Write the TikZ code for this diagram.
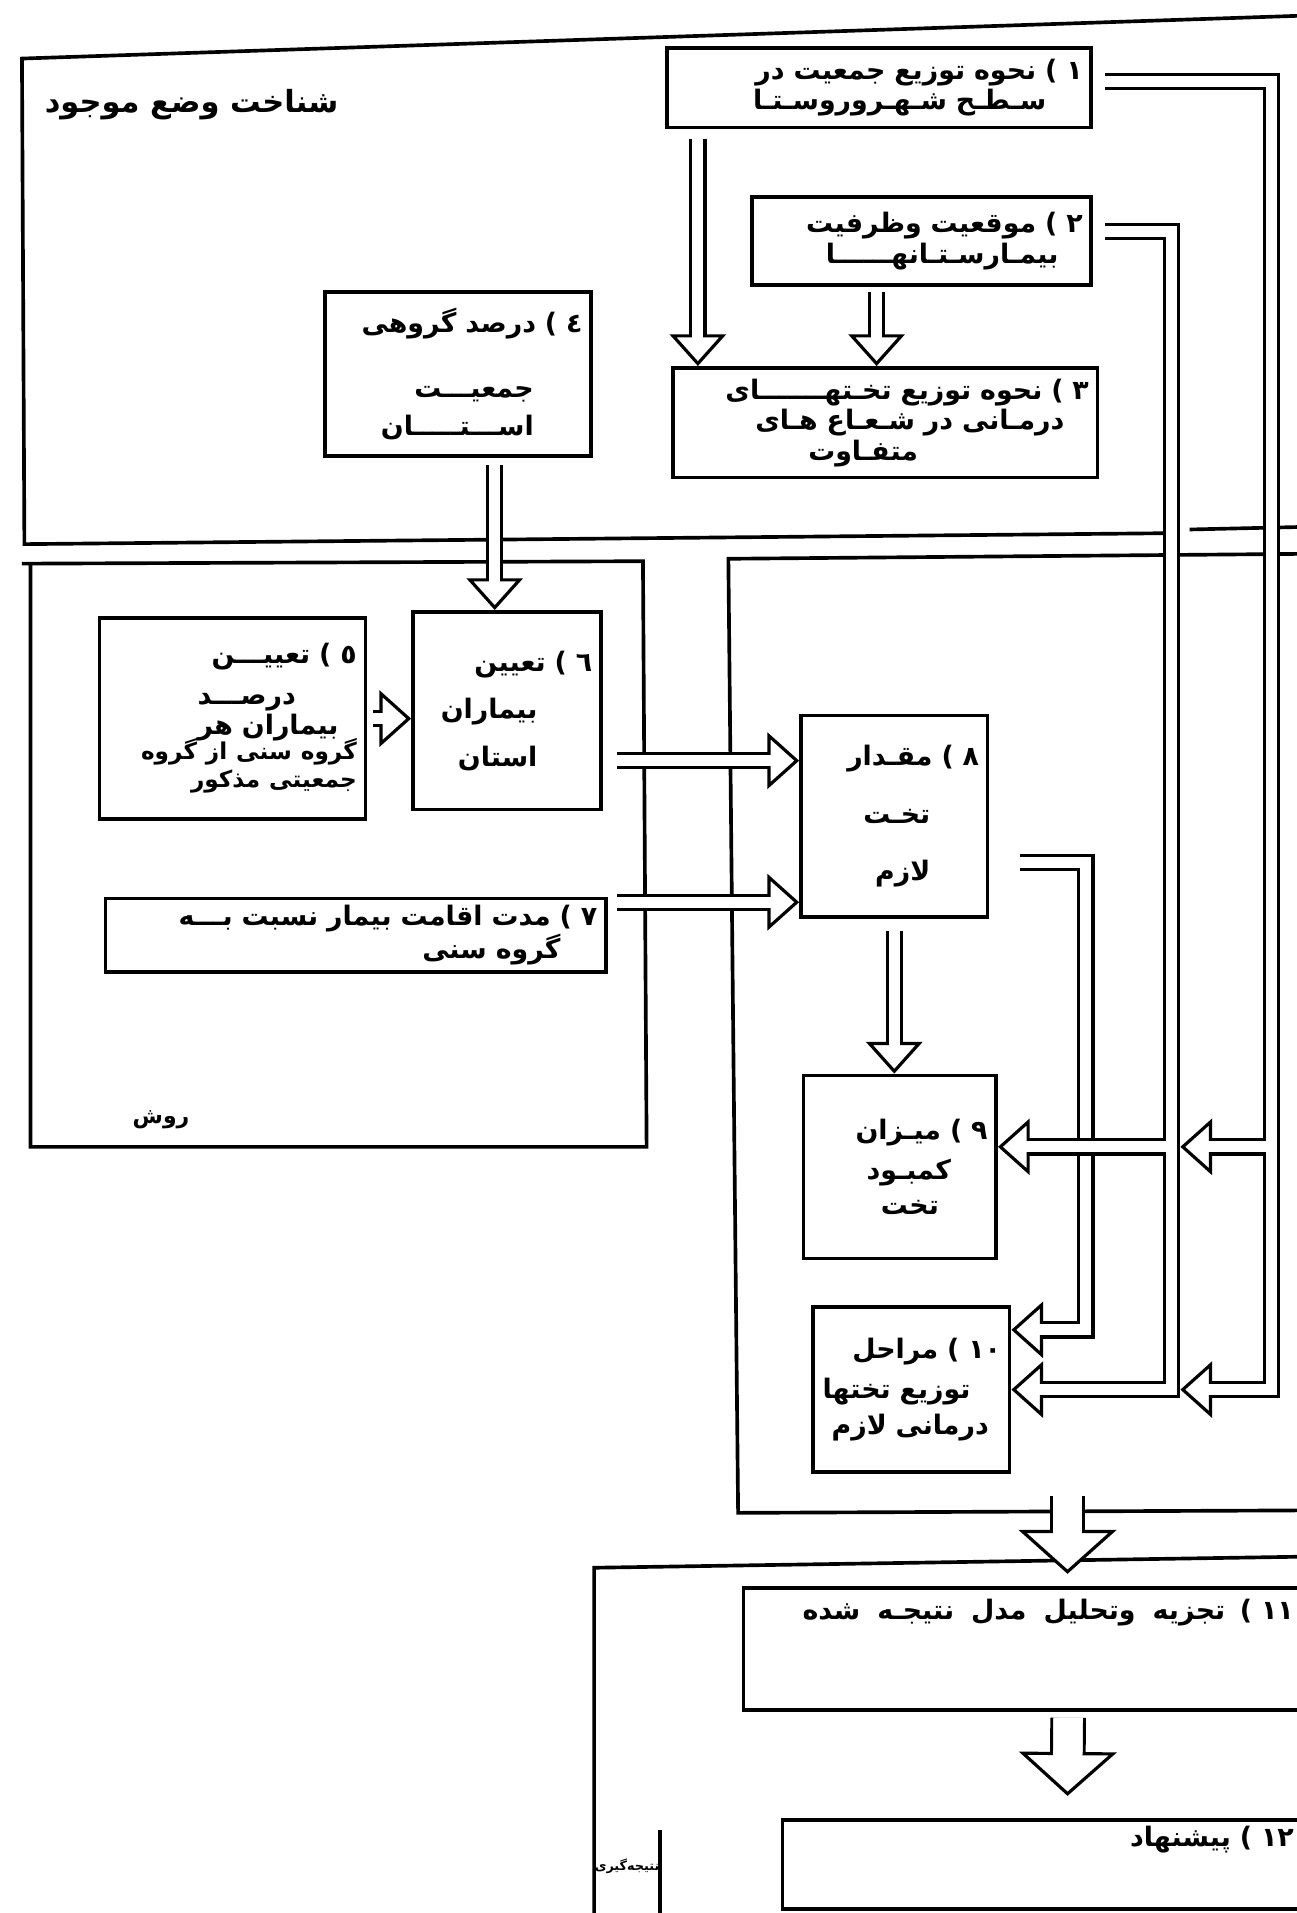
\documentclass[tikz,border=0pt]{standalone}
\usepackage{fontspec}
\usetikzlibrary{arrows.meta}
\TeXXeTstate=1
\newfontfamily\fa[Script=Arabic]{DejaVu Sans}
\newcommand{\fl}[1]{\beginR #1\endR}
\newcommand{\hollowline}[2][hollow]{\draw[#1] #2; \draw[#1 gap] #2;}

\begin{document}
\begin{tikzpicture}[x=1pt, y=-1pt,
every node/.style={font=\fa\bfseries\fontsize{22}{25}\selectfont},
box/.style 2 args={draw, line width=3pt, anchor=north west, align=right,
  inner xsep=7pt, inner ysep=3pt, text width=#1, minimum height=#2},
frame/.style={line width=3pt},
hollow/.style={double=white, double distance=9pt, line width=2.6pt,
  -{Triangle[fill=white, length=26pt, width=46pt, line width=2.6pt]}},
hollow gap/.style={white, line width=9pt, shorten >=22pt},
bighollow/.style={double=white, double distance=24pt, line width=2.6pt,
  -{Triangle[fill=white, length=36pt, width=80pt, line width=2.6pt]}},
bighollow gap/.style={white, line width=24pt, shorten >=31pt}]
\fill[white] (0,0) rectangle (1063,1568);
\useasboundingbox (0,0) rectangle (1063,1568);

%frames of the three parts
\draw[frame] (1063,13) -- (18,48) -- (20,446) -- (960,437);
\draw[frame] (975,434) -- (1063,432);
\draw[frame] (18,462) -- (527,460) -- (530,940) -- (25,940) -- (25,462);
\draw[frame] (1063,454) -- (597,458) -- (605,1240) -- (1063,1238);
\draw[frame] (1063,1276) -- (487,1285) -- (487,1568);
\draw[frame] (541,1500) -- (541,1568);

\node[font=\fa\bfseries\fontsize{25}{28}\selectfont] (known) at (157,86) {\fl{شناخت وضع موجود}};
\node[font=\fa\bfseries\fontsize{18}{22}\selectfont] (method) at (132,918) {\fl{روش}};
\node[font=\fa\bfseries\fontsize{10.5}{13}\selectfont, inner sep=0pt] (result) at (514,1530) {\fl{نتیجه‌گیری}};

%boxes
\node[box={334pt}{65pt}] (1) at (545,38) {\fl{١ ) نحوه توزیع جمعیت در}\\ \fl{\hspace*{30pt}سـطـح شـهـروروسـتـا}};
\node[box={264pt}{72pt}] (2) at (615,160) {\fl{٢ ) موقعیت وظرفیت}\\ \fl{\hspace*{20pt}بیمـارسـتـانهــــــا}};
\node[box={334pt}{90pt}] (3) at (550,300) {\fl{٣ ) نحوه توزیع تخـتهـــــــای}\\ \fl{\hspace*{20pt}درمـانی در شـعـاع هـای}\\ \fl{\hspace*{140pt}متفـاوت}};
\node[box={204pt}{134pt}] (4) at (265,238) {\fl{٤ ) درصد گروهی}\\[28pt] \fl{\hspace*{40pt}جمعیـــت}\\[6pt] \fl{\hspace*{40pt}اســـتـــــان}};
\node[box={204pt}{165pt}] (5) at (80,505) {\fl{٥ ) تعییـــن}\\[8pt] \fl{\hspace*{50pt}درصـــد}\\[0pt] \fl{\hspace*{15pt}بیماران هر}\\[-3pt]
  {\fontsize{19}{21}\selectfont\fl{گروه سنی از گروه}\\[-2pt] \fl{جمعیتی مذکور}}};
\node[box={140pt}{162pt}] (6) at (337,500) {\fl{٦ ) تعیین}\\[14pt] \fl{\hspace*{45pt}بیماران}\\[14pt] \fl{\hspace*{45pt}استان}};
\node[box={396pt}{60pt}] (7) at (85,735) {\fl{٧ ) مدت اقامت بیمار نسبت بـــه}\\ \fl{\hspace*{30pt}گروه سنی}};
\node[box={139pt}{165pt}] (8) at (655,585) {\fl{٨ ) مقـدار}\\[22pt] \fl{\hspace*{40pt}تخـت}\\[22pt] \fl{\hspace*{40pt}لازم}};
\node[box={144pt}{150pt}] (9) at (657,880) {\fl{٩ ) میـزان}\\[8pt] \fl{\hspace*{30pt}کمبـود}\\[4pt] \fl{\hspace*{40pt}تخت}};
\node[box={147pt}{135pt}] (10) at (665,1070) {\fl{١٠ ) مراحل}\\[8pt] \fl{\hspace*{25pt}توزیع تختها}\\[4pt] \fl{\hspace*{10pt}درمانی لازم}};
\node[box={454pt}{100pt}] (11) at (608,1300) {\fl{\hspace*{10pt}١١ )\hspace{12pt}تجزیه\hspace{14pt}وتحلیل\hspace{14pt}مدل\hspace{14pt}نتیجـه\hspace{14pt}شده}\\[40pt]\mbox{}};
\node[box={424pt}{73pt}] (12) at (640,1490) {\fl{\hspace*{12pt}١٢ ) پیشنهاد}\\[20pt]\mbox{}};

%straight arrows
\coordinate (a1) at ([xshift=27pt,yshift=-8pt]1.south west);
\hollowline{(a1) -- (a1 |- 3.north)}
\coordinate (a2) at ([xshift=-37pt,yshift=-4pt]2.south);
\hollowline{(a2) -- (a2 |- 3.north)}
\coordinate (a4) at ([xshift=30pt,yshift=-6pt]4.south);
\hollowline{(a4) -- (a4 |- 6.north)}
\hollowline{([xshift=5pt]5.east) -- (5.east -| 6.west)}
\coordinate (a6) at ([xshift=12pt,yshift=-41pt]6.east);
\hollowline{(a6) -- (a6 -| 8.west)}
\coordinate (a7) at ([xshift=8pt,yshift=27pt]7.east);
\hollowline{(a7) -- (a7 -| 8.west)}
\coordinate (a8) at ([yshift=-10pt]8.south);
\hollowline{(a8) -- (a8 |- 9.north)}

%side paths
\coordinate (r1) at (1042,940);
\coordinate (r2) at (960,940);
\coordinate (r2e) at (967.5,940);
\coordinate (r3) at (890,1090);
\hollowline{([xshift=25pt,yshift=-38pt]8.east) -| (r3) -- (r3 -| 10.east)}
\hollowline{([xshift=10pt,yshift=8pt]2.east) -| (r2) -- (r2 -| 9.east)}
\hollowline{([yshift=-4.5pt]r2) |- (10.east)}
\hollowline{([xshift=10pt,yshift=5pt]1.east) -| (r1) -- (r2e)}
\hollowline{([yshift=-4.5pt]r1) |- (r2e |- 10.east)}

%between the parts
\coordinate (s2) at (875,1226);
\coordinate (s3) at (875,1290);
\hollowline[bighollow]{(s2) -- (s3)}
\coordinate (a11) at ([xshift=32pt,yshift=-5pt]11.south);
\coordinate (t12) at (875,1472);
\hollowline[bighollow]{(a11) -- (t12)}
\end{tikzpicture}
\end{document}
